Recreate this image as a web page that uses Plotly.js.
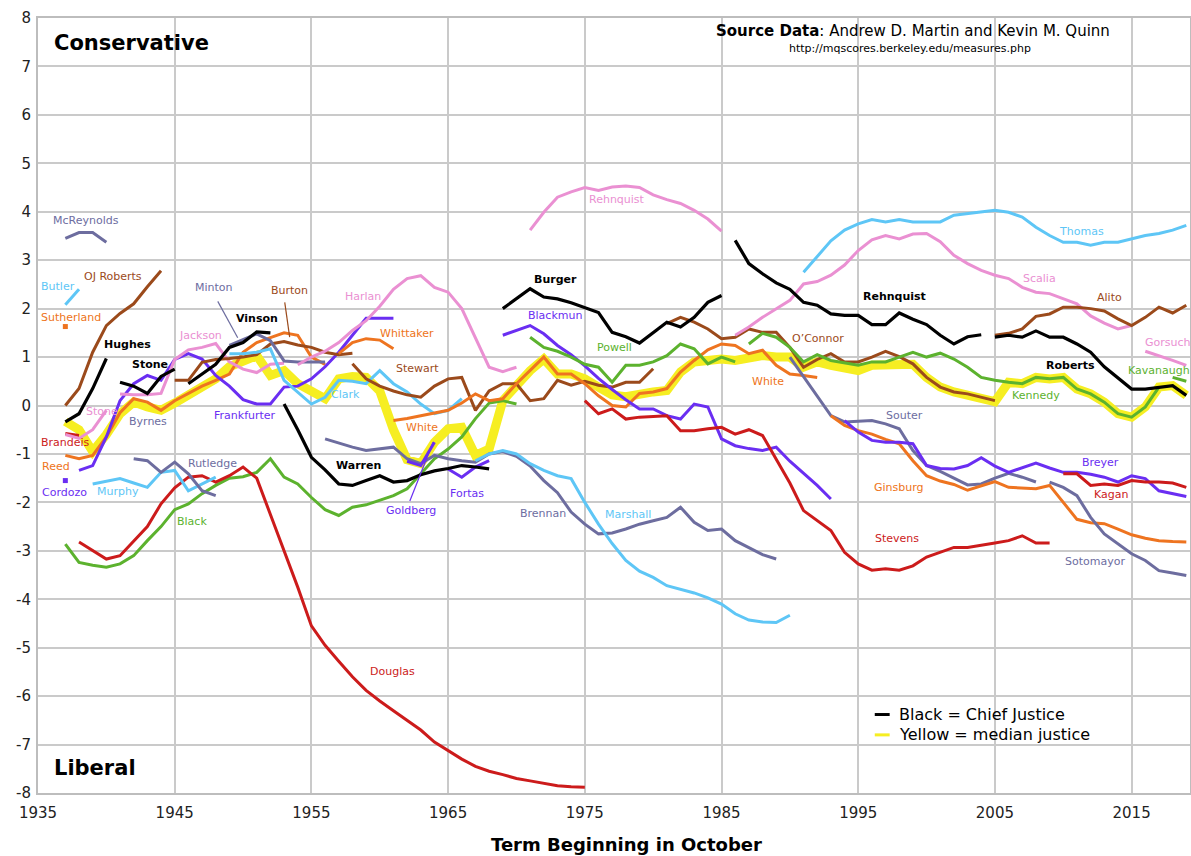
<!DOCTYPE html>
<html><head><meta charset="utf-8">
<script src="https://cdn.plot.ly/plotly-3.0.1.min.js"></script>
<style>html,body{margin:0;padding:0;background:#fff}#chart{width:1191px;height:856px}</style>
</head><body><div id="chart"></div>
<script>
// ---------- DATA (Martin-Quinn scores by term) ----------
const xTicks = [1935,1945,1955,1965,1975,1985,1995,2005,2015];
const yTicks = [-8,-7,-6,-5,-4,-3,-2,-1,0,1,2,3,4,5,6,7,8];

const medianFrom = 1937;
const median = [-0.33,-0.5,-0.95,
 -0.6,-0.17,0.07,-0.03,-0.1,0.05,0.2,0.35,0.55,0.8,
 0.9,1.03,0.62,0.72,0.45,0.31,0.14,0.55,0.6,0.58,
 0.3,-0.5,-1.12,-1.2,-0.76,-0.48,-0.45,-1.03,-0.9,0.1,
 0.42,0.72,0.96,0.65,0.65,0.55,0.38,0.22,0.18,0.24,
 0.28,0.31,0.69,0.9,0.93,0.96,0.93,0.96,1.03,1.0,
 1.0,0.79,0.9,0.83,0.78,0.72,0.83,0.83,0.87,0.85,
 0.58,0.38,0.28,0.22,0.17,0.08,0.48,0.45,0.58,0.55,
 0.58,0.34,0.24,0.07,-0.17,-0.24,-0.03,0.38,0.41,0.21];

const mcreynoldsFrom = 1937, mcreynolds = [3.45,3.57,3.57,3.37];
const butlerFrom = 1937, butler = [2.08,2.4];
const sutherlandFrom = 1937, sutherland = [1.63];
const ojRobertsFrom = 1937, ojRoberts = [0.0,0.35,1.1,1.65,1.9,2.1,2.45,2.78];
const brandeisFrom = 1937, brandeis = [-0.58,-0.62];
const cardozoFrom = 1937, cardozo = [-1.55];
const stoneFrom = 1937, stone = [-0.6,-0.68,-0.5,-0.1];
const reedFrom = 1937, reed = [-1.03,-1.1,-1.03,-0.65,-0.15,0.14,0.07,-0.1,0.1,0.25,0.4,0.52,0.65,1.1,1.3,1.4,1.5,1.45,1.0,0.85];
const blackFrom = 1937, black = [-2.86,-3.24,-3.3,-3.34,-3.27,-3.1,-2.79,-2.5,-2.15,-2.03,-1.82,-1.65,-1.5,-1.47,-1.38,-1.1,-1.48,-1.62,-1.9,-2.15,-2.27,-2.1,-2.05,-1.95,-1.86,-1.72,-1.4,-1.1,-0.9,-0.65,-0.27,0.05,0.1,0.03];
const frankfurterFrom = 1938, frankfurter = [-1.34,-1.24,-0.65,0.1,0.45,0.62,0.52,0.95,1.07,0.96,0.62,0.4,0.12,0.03,0.03,0.38,0.4,0.55,0.8,1.1,1.45,1.8,1.8,1.8];
const douglasFrom = 1938, douglas = [-2.82,-3.0,
 -3.17,-3.1,-2.8,-2.5,-2.03,-1.7,-1.48,-1.45,-1.58,-1.45,
 -1.27,-1.5,-2.25,-2.98,-3.75,-4.55,-4.95,-5.28,-5.6,-5.88,
 -6.1,-6.3,-6.5,-6.7,-6.95,-7.12,-7.3,-7.45,-7.55,-7.62,
 -7.7,-7.75,-7.8,-7.85,-7.87,-7.88];
const murphyFrom = 1939, murphy = [-1.62,-1.57,-1.51,-1.6,-1.69,-1.38,-1.34,-1.76,-1.62,-1.48];
const jacksonFrom = 1941, jackson = [0.24,0.22,0.22,0.25,0.95,1.15,1.2,1.28,0.9,0.75,0.68,0.85,0.87];
const rutledgeFrom = 1942, rutledge = [-1.1,-1.14,-1.38,-1.17,-1.41,-1.76,-1.86];
const burtonFrom = 1945, burton = [0.52,0.52,0.89,0.95,0.97,1.0,1.05,1.27,1.32,1.25,1.2,1.1,1.05,1.08];
const mintonFrom = 1949, minton = [1.24,1.36,1.48,1.34,0.92,0.9,0.9,0.9];
const clarkFrom = 1949, clark = [1.07,1.07,1.1,1.17,0.52,0.28,0.03,0.17,0.52,0.5,0.45,0.72,0.45,0.28,0.03,-0.17,-0.1,0.14];
const harlanFrom = 1954, harlan = [0.84,1.0,1.12,1.3,1.55,1.75,2.05,2.4,2.62,2.68,2.44,2.34,2.0,1.4,0.79,0.7,0.79];
const brennanFrom = 1956, brennan = [-0.69,-0.78,-0.86,-0.93,-0.9,-0.86,-1.1,-1.2,-1.03,-1.1,-1.14,-1.17,-1.0,-0.95,-1.05,-1.25,-1.55,-1.8,-2.2,-2.45,-2.65,-2.63,-2.55,-2.45,-2.38,-2.31,-2.1,-2.41,-2.58,-2.55,-2.79,-2.93,-3.08,-3.17];
const whittakerFrom = 1957, whittaker = [1.07,1.3,1.38,1.35,1.17];
const stewartFrom = 1958, stewart = [0.86,0.55,0.4,0.3,0.22,0.17,0.4,0.55,0.58,-0.1,0.3,0.45,0.45,0.1,0.14,0.52,0.42,0.5,0.42,0.38,0.48,0.48,0.76];
const whiteFrom = 1961, white = [-0.31,-0.27,-0.21,-0.15,-0.1,0.05,0.24,0.1,0.14,0.45,0.72,1.0,0.65,0.65,0.45,0.2,0.0,-0.03,0.25,0.28,0.35,0.69,0.93,1.15,1.27,1.24,1.07,1.14,0.83,0.65,0.62,0.58];
const goldbergFrom = 1962, goldberg = [-1.15,-1.24,-0.76];
const fortasFrom = 1965, fortas = [-1.31,-1.48,-1.27,-1.14];
const marshallFrom = 1967, marshall = [-1.14,-1.0,-0.93,-1.0,-1.2,-1.34,-1.45,-1.51,-2.0,-2.45,-2.85,-3.2,-3.42,-3.55,-3.72,-3.8,-3.87,-3.97,-4.1,-4.3,-4.43,-4.47,-4.48,-4.33];
const blackmunFrom = 1969, blackmun = [1.45,1.55,1.65,1.48,1.24,1.05,0.82,0.56,0.33,0.12,-0.07,-0.07,-0.21,-0.28,0.03,-0.03,-0.69,-0.83,-0.89,-0.93,-0.86,-1.15,-1.4,-1.65,-1.93];
const powellFrom = 1971, powell = [1.41,1.2,1.12,1.0,0.85,0.79,0.48,0.83,0.83,0.9,1.03,1.27,1.17,0.86,1.0,0.9];
const rehnquistFrom = 1971, rehnquist = [3.62,3.99,4.3,4.41,4.5,4.44,4.51,4.53,4.5,4.35,4.25,4.17,4.03,3.85,3.6];
const stevensFrom = 1975, stevens = [0.1,-0.17,-0.07,-0.28,-0.24,-0.22,-0.21,-0.52,-0.52,-0.48,-0.45,-0.59,-0.5,-0.62,-1.12,-1.6,-2.17,-2.38,-2.58,-3.03,-3.27,-3.4,-3.37,-3.4,-3.31,-3.13,-3.03,-2.93,-2.93,-2.89,-2.84,-2.79,-2.69,-2.84,-2.84];
const oconnorFrom = 1981, oconnor = [1.69,1.82,1.72,1.58,1.38,1.41,1.58,1.51,1.51,1.2,0.79,0.95,1.07,0.9,0.9,1.0,1.12,1.01,0.86,0.58,0.38,0.28,0.24,0.17,0.1];
const scaliaFrom = 1986, scalia = [1.45,1.62,1.82,2.0,2.17,2.51,2.56,2.69,2.9,3.2,3.42,3.51,3.44,3.54,3.55,3.38,3.1,2.93,2.79,2.69,2.62,2.44,2.34,2.31,2.2,2.1,1.85,1.7,1.58,1.65];
const kennedyFrom = 1987, kennedy = [1.27,1.49,1.41,1.2,0.9,1.05,0.93,0.88,0.83,0.9,0.9,1.0,1.1,1.0,1.08,0.96,0.79,0.58,0.52,0.48,0.45,0.58,0.55,0.58,0.34,0.24,0.07,-0.17,-0.24,-0.03,0.38];
const souterFrom = 1990, souter = [1.0,0.6,0.2,-0.21,-0.34,-0.33,-0.31,-0.38,-0.48,-0.93,-1.24,-1.36,-1.5,-1.64,-1.62,-1.5,-1.4,-1.48,-1.58];
const thomasFrom = 1991, thomas = [2.75,3.08,3.4,3.62,3.75,3.84,3.79,3.84,3.79,3.79,3.79,3.93,3.96,3.99,4.03,3.99,3.89,3.68,3.51,3.37,3.37,3.31,3.37,3.37,3.44,3.51,3.55,3.62,3.72];
const ginsburgFrom = 1993, ginsburg = [-0.21,-0.41,-0.52,-0.59,-0.7,-0.79,-1.14,-1.45,-1.56,-1.63,-1.75,-1.66,-1.57,-1.69,-1.7,-1.72,-1.65,-2.0,-2.35,-2.42,-2.44,-2.55,-2.67,-2.74,-2.79,-2.81,-2.82];
const breyerFrom = 1994, breyer = [-0.31,-0.55,-0.72,-0.76,-0.76,-0.79,-1.24,-1.3,-1.31,-1.24,-1.08,-1.25,-1.38,-1.28,-1.19,-1.29,-1.38,-1.38,-1.42,-1.48,-1.58,-1.45,-1.51,-1.76,-1.82,-1.88];
const alitoFrom = 2005, alito = [1.45,1.49,1.58,1.84,1.89,2.03,2.03,2.0,1.95,1.79,1.65,1.82,2.03,1.91,2.07];
const sotomayorFrom = 2009, sotomayor = [-1.58,-1.69,-1.86,-2.31,-2.65,-2.86,-3.06,-3.2,-3.41,-3.46,-3.51];
const kaganFrom = 2010, kagan = [-1.41,-1.41,-1.65,-1.62,-1.65,-1.55,-1.58,-1.58,-1.6,-1.69];
const gorsuchFrom = 2016, gorsuch = [1.12,1.03,0.93,0.83];
const kavanaughFrom = 2018, kavanaugh = [0.58,0.5];

// Chief justices
const hughesFrom = 1937, hughes = [-0.34,-0.17,0.35,0.97];
const stoneChiefFrom = 1941, stoneChief = [0.48,0.4,0.25,0.6,0.75];
const vinsonFrom = 1946, vinson = [0.45,0.65,0.85,1.2,1.3,1.52,1.5];
const warrenFrom = 1953, warren = [0.03,-0.5,-1.07,-1.33,-1.62,-1.65,-1.55,-1.45,-1.58,-1.55,-1.43,-1.35,-1.3,-1.24,-1.27,-1.31];
const burgerFrom = 1969, burger = [2.0,2.2,2.41,2.24,2.2,2.12,2.02,1.92,1.51,1.42,1.29,1.51,1.72,1.62,1.82,2.13,2.27];
const rehnquistChiefFrom = 1986, rehnquistChief = [3.41,2.93,2.72,2.53,2.4,2.13,2.07,1.89,1.86,1.86,1.67,1.67,1.91,1.78,1.67,1.45,1.27,1.42,1.46];
const robertsFrom = 2005, roberts = [1.41,1.45,1.41,1.54,1.41,1.41,1.27,1.1,0.8,0.58,0.34,0.34,0.38,0.41,0.21];

// ---------- STYLE ----------
const FONT = 'DejaVu Sans, Verdana, sans-serif';
const COL = {purple:'#6a2ef2', red:'#cc1b1b', green:'#5cb22e', orange:'#ee7420', brown:'#9b4a1b',
  pink:'#ea90d2', blue:'#5ec6f6', slate:'#6d6d9f', black:'#000000', yellow:'#f6ee22'};

const terms = (from, vals) => vals.map((v, i) => from + i);

const associates = [
  [mcreynoldsFrom, mcreynolds, COL.slate], [butlerFrom, butler, COL.blue], [sutherlandFrom, sutherland, COL.orange],
  [ojRobertsFrom, ojRoberts, COL.brown], [brandeisFrom, brandeis, COL.red], [cardozoFrom, cardozo, COL.purple],
  [stoneFrom, stone, COL.pink], [reedFrom, reed, COL.orange], [blackFrom, black, COL.green],
  [frankfurterFrom, frankfurter, COL.purple], [douglasFrom, douglas, COL.red], [murphyFrom, murphy, COL.blue],
  [jacksonFrom, jackson, COL.pink], [rutledgeFrom, rutledge, COL.slate], [burtonFrom, burton, COL.brown],
  [mintonFrom, minton, COL.slate], [clarkFrom, clark, COL.blue], [harlanFrom, harlan, COL.pink],
  [brennanFrom, brennan, COL.slate], [whittakerFrom, whittaker, COL.orange], [stewartFrom, stewart, COL.brown],
  [whiteFrom, white, COL.orange], [goldbergFrom, goldberg, COL.purple], [fortasFrom, fortas, COL.purple],
  [marshallFrom, marshall, COL.blue], [blackmunFrom, blackmun, COL.purple], [powellFrom, powell, COL.green],
  [rehnquistFrom, rehnquist, COL.pink], [stevensFrom, stevens, COL.red], [oconnorFrom, oconnor, COL.brown],
  [scaliaFrom, scalia, COL.pink], [kennedyFrom, kennedy, COL.green], [souterFrom, souter, COL.slate],
  [thomasFrom, thomas, COL.blue], [ginsburgFrom, ginsburg, COL.orange], [breyerFrom, breyer, COL.purple],
  [alitoFrom, alito, COL.brown], [sotomayorFrom, sotomayor, COL.slate], [kaganFrom, kagan, COL.red],
  [gorsuchFrom, gorsuch, COL.pink], [kavanaughFrom, kavanaugh, COL.green]
];
const chiefs = [
  [hughesFrom, hughes], [stoneChiefFrom, stoneChief], [vinsonFrom, vinson], [warrenFrom, warren],
  [burgerFrom, burger], [rehnquistChiefFrom, rehnquistChief], [robertsFrom, roberts]
];

const traces = [];
traces.push({x: terms(medianFrom, median), y: median, mode:'lines', line:{color:COL.yellow, width:9}, hoverinfo:'skip'});
associates.forEach(([from, vals, color]) => {
  if (vals.length === 1) {
    traces.push({x: terms(from, vals), y: vals, mode:'markers', marker:{color, size:5, symbol:'square'}, hoverinfo:'skip'});
  } else {
    traces.push({x: terms(from, vals), y: vals, mode:'lines', line:{color, width:3}, hoverinfo:'skip'});
  }
});
chiefs.forEach(([from, vals]) => {
  traces.push({x: terms(from, vals), y: vals, mode:'lines', line:{color:COL.black, width:3.2}, hoverinfo:'skip'});
});

// ---------- LABELS ----------
function lab(text, x, y, color, extra) {
  return Object.assign({text, x, y, xref:'x', yref:'y', showarrow:false, xanchor:'center', yanchor:'middle',
    font:{family:FONT, size:11, color}}, extra || {});
}
const B = t => '<b>' + t + '</b>';
const annotations = [
  lab('McReynolds', 1938.49, 3.82, COL.slate),
  lab('Butler', 1936.44, 2.46, COL.blue),
  lab('OJ Roberts', 1940.46, 2.67, COL.brown),
  lab('Sutherland', 1937.39, 1.82, COL.orange),
  lab(B('Hughes'), 1941.56, 1.26, '#000'),
  lab(B('Stone'), 1943.17, 0.85, '#000'),
  lab('Stone', 1939.66, -0.12, COL.pink),
  lab('Byrnes', 1943.02, -0.33, COL.slate),
  lab('Brandeis', 1937.03, -0.76, COL.red),
  lab('Reed', 1936.29, -1.26, COL.orange),
  lab('Cordozo', 1936.95, -1.80, COL.purple),
  lab('Murphy', 1940.83, -1.78, COL.blue),
  lab('Rutledge', 1947.78, -1.20, COL.slate),
  lab('Black', 1946.24, -2.40, COL.green),
  lab('Jackson', 1946.90, 1.45, COL.pink),
  lab('Minton', 1947.85, 2.44, COL.slate),
  lab(B('Vinson'), 1950.99, 1.80, '#000'),
  lab('Burton', 1953.41, 2.38, COL.brown),
  lab('Frankfurter', 1950.12, -0.21, COL.purple),
  lab('Harlan', 1958.75, 2.25, COL.pink),
  lab('Clark', 1957.51, 0.23, COL.blue),
  lab('Whittaker', 1961.97, 1.49, COL.orange),
  lab('Stewart', 1962.78, 0.76, COL.brown),
  lab('White', 1963.07, -0.45, COL.orange),
  lab(B('Warren'), 1958.46, -1.24, '#000'),
  lab('Goldberg', 1962.26, -2.17, COL.purple),
  lab('Fortas', 1966.36, -1.82, COL.purple),
  lab('Douglas', 1960.95, -5.50, COL.red),
  lab('Rehnquist', 1977.34, 4.26, COL.pink),
  lab(B('Burger'), 1972.87, 2.60, '#000'),
  lab('Blackmun', 1972.80, 1.86, COL.purple),
  lab('Powell', 1977.19, 1.20, COL.green),
  lab('Brennan', 1971.92, -2.23, COL.slate),
  lab('Marshall', 1978.14, -2.25, COL.blue),
  lab('White', 1988.37, 0.50, COL.orange),
  lab('O\u2019Connor', 1992.03, 1.38, COL.brown),
  lab(B('Rehnquist'), 1997.68, 2.25, '#000'),
  lab('Souter', 1998.41, -0.21, COL.slate),
  lab('Ginsburg', 1997.97, -1.69, COL.orange),
  lab('Stevens', 1997.83, -2.75, COL.red),
  lab('Thomas', 2011.35, 3.60, COL.blue),
  lab('Scalia', 2008.28, 2.62, COL.pink),
  lab('Alito', 2013.40, 2.23, COL.brown),
  lab('Gorsuch', 2015.85, 1.30, COL.pink, {xanchor:'left'}),
  lab('Kavanaugh', 2014.6, 0.72, COL.green, {xanchor:'left'}),
  lab(B('Roberts'), 2010.54, 0.83, '#000'),
  lab('Kennedy', 2007.98, 0.21, COL.green),
  lab('Breyer', 2012.74, -1.18, COL.purple),
  lab('Kagan', 2013.47, -1.84, COL.red),
  lab('Sotomayor', 2012.30, -3.22, COL.slate),
  // headings
  lab(B('Conservative'), 1936.0, 7.48, '#000', {xanchor:'left', font:{family:FONT, size:21, color:'#000'}}),
  lab(B('Liberal'), 1936.0, -7.48, '#000', {xanchor:'left', font:{family:FONT, size:21, color:'#000'}}),
  lab(B('Source Data') + ': Andrew D. Martin and Kevin M. Quinn', 1998.99, 7.73, '#000', {font:{family:FONT, size:15, color:'#000'}}),
  lab('http://mqscores.berkeley.edu/measures.php', 1998.8, 7.38, '#000', {font:{family:FONT, size:11, color:'#000'}}),
  // legend
  lab('Black = Chief Justice', 1997.82, -6.38, '#000', {xanchor:'left', font:{family:FONT, size:16, color:'#000'}}),
  lab('Yellow = median justice', 1997.82, -6.80, '#000', {xanchor:'left', font:{family:FONT, size:16, color:'#000'}}),
  // x-axis title
  {text: B('Term Beginning in October'), x:1978.07, y:-0.067, xref:'x', yref:'paper', showarrow:false,
   xanchor:'center', yanchor:'middle', font:{family:FONT, size:18, color:'#000'}}
];

const shapes = [
  // leader lines
  {type:'line', xref:'x', yref:'y', x0:1948.15, y0:2.15, x1:1949.61, y1:1.40, line:{color:COL.slate, width:1.2}},
  {type:'line', xref:'x', yref:'y', x0:1953.05, y0:2.13, x1:1953.41, y1:1.41, line:{color:COL.brown, width:1.2}},
  {type:'line', xref:'x', yref:'y', x0:1962.2, y0:-1.97, x1:1963.9, y1:-0.76, line:{color:COL.purple, width:1.2}},
  // legend keys
  {type:'line', xref:'x', yref:'y', x0:1996.21, y0:-6.38, x1:1997.30, y1:-6.38, line:{color:'#000', width:3}},
  {type:'line', xref:'x', yref:'y', x0:1996.21, y0:-6.80, x1:1997.30, y1:-6.80, line:{color:COL.yellow, width:3}}
];

const layout = {
  width:1191, height:856,
  margin:{l:38, r:1, t:18, b:63},
  paper_bgcolor:'#ffffff', plot_bgcolor:'#ffffff',
  showlegend:false,
  font:{family:FONT, size:15, color:'#222'},
  xaxis:{range:[1935, 2019.27], tickvals:xTicks, ticktext:xTicks.map(String), showgrid:true,
    gridcolor:'#cacaca', gridwidth:2, zeroline:false, showline:true, linecolor:'#bdbdbd', linewidth:2, mirror:true,
    ticks:'outside', ticklen:5, tickcolor:'rgba(0,0,0,0)', tickfont:{family:FONT, size:15, color:'#222'}},
  yaxis:{range:[-8, 8], tickvals:yTicks, ticktext:yTicks.map(String), showgrid:true,
    gridcolor:'#cacaca', gridwidth:2, zeroline:false, showline:true, linecolor:'#bdbdbd', linewidth:2, mirror:true,
    ticks:'outside', ticklen:2, tickcolor:'rgba(0,0,0,0)', tickfont:{family:FONT, size:15, color:'#222'}},
  annotations, shapes
};

Plotly.newPlot('chart', traces, layout, {displayModeBar:false, staticPlot:true});
</script></body></html>
